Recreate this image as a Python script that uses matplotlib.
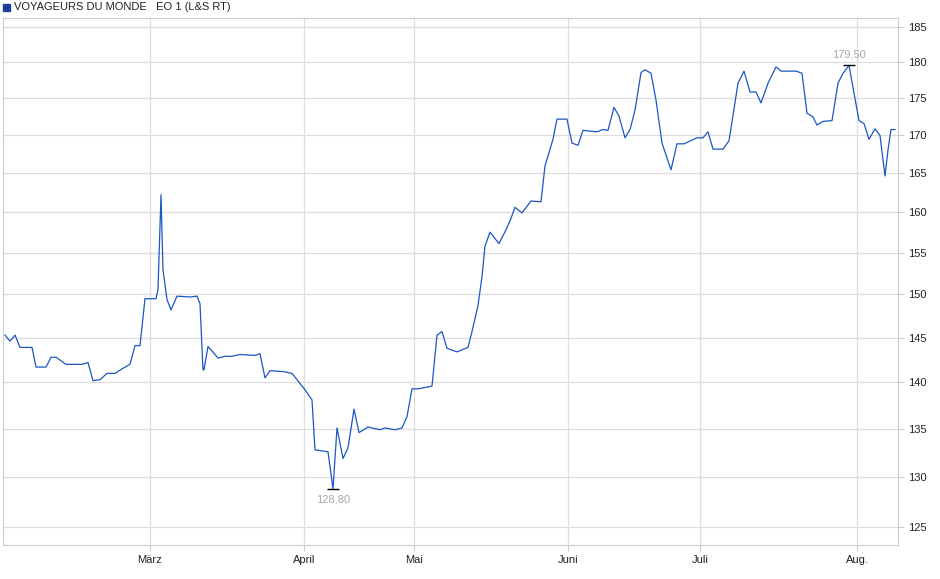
import numpy as np
import matplotlib.pyplot as plt
from matplotlib.ticker import FixedLocator, NullLocator

plt.rcParams['font.family'] = ['Liberation Sans', 'DejaVu Sans']

# trading-day index and closing price
days = [0.5, 1.75, 3, 4.25, 7.25, 8.25, 10.75, 12, 13.25, 15.75, 19.75, 21.25, 22.5, 24.25,
        26, 28, 29.75, 31.75, 33, 34.25, 35.5, 38.25, 38.75, 39.5, 40, 41, 42, 43.5, 46.75,
        48.5, 49.25, 50, 50.25, 51.25, 52.25, 53.75, 55.5, 57.25, 59.25, 63, 64.25, 65.5,
        66.75, 70, 72.25, 74.25, 75.5, 77.25, 78, 81.25, 82.5, 83.5, 85, 86.25, 87.75, 89,
        91.25, 94.25, 95.5, 98, 99.75, 101, 102.25, 103.75, 107.25, 108.5, 109.75, 111,
        113.5, 116.25, 117.25, 118.75, 119.75, 120.5, 121.75, 124, 125.75, 126.75, 128,
        129.75, 132, 134.5, 135.5, 137.5, 138.5, 141, 142.25, 143.75, 145, 146.75, 148.5,
        150, 151.25, 152.75, 154, 155.5, 156.75, 158, 159.5, 160.5, 162, 163.25, 164.75,
        167, 168.5, 170.25, 173.5, 175, 176.25, 177.5, 180, 181.5, 183.75, 185.25, 186.75,
        188.25, 189.5, 191.25, 193.25, 194.5, 198.25, 199.75, 201, 202.5, 203.5, 205,
        207.25, 208.75, 210, 211.5, 214, 215.25, 216.5, 218, 219.25, 220.5, 221.25, 222, 223]
prices = [145.3, 144.6, 145.3, 143.9, 143.9, 141.7, 141.7, 142.8, 142.8, 142.0, 142.0, 142.2,
          140.2, 140.3, 141.0, 141.0, 141.5, 142.0, 144.1, 144.1, 149.5, 149.5, 150.6, 162.2,
          152.9, 149.4, 148.2, 149.8, 149.7, 149.8, 148.9, 141.4, 141.4, 144.0, 143.5, 142.7,
          142.9, 142.9, 143.1, 143.0, 143.2, 140.5, 141.3, 141.2, 141.0, 139.9, 139.2, 138.1,
          132.8, 132.6, 128.8, 135.1, 131.9, 133.0, 137.1, 134.6, 135.2, 134.9, 135.1, 134.9,
          135.1, 136.3, 139.3, 139.3, 139.6, 145.3, 145.7, 143.8, 143.4, 143.9, 145.7, 148.7,
          152.1, 155.8, 157.5, 156.1, 157.8, 158.9, 160.6, 159.9, 161.4, 161.3, 165.9, 169.4,
          172.1, 172.1, 168.9, 168.6, 170.6, 170.5, 170.4, 170.7, 170.6, 173.7, 172.5, 169.6,
          170.7, 173.3, 178.5, 178.9, 178.4, 174.7, 168.9, 165.4, 168.8, 168.8, 169.6, 169.6,
          170.4, 168.1, 168.1, 169.2, 177.0, 178.7, 175.8, 175.8, 174.3, 177.0, 179.3, 178.7,
          178.7, 178.4, 172.9, 172.4, 171.3, 171.8, 171.9, 177.0, 178.4, 179.5, 171.9, 171.5,
          169.4, 170.8, 169.9, 164.6, 168.0, 170.7, 170.7]

month_pos = [36.75, 75.25, 102.75, 141.25, 174.25, 213.5]
month_labels = ['März', 'April', 'Mai', 'Juni', 'Juli', 'Aug.']
y_ticks = [125, 130, 135, 140, 145, 150, 155, 160, 165, 170, 175, 180, 185]

fig = plt.figure(figsize=(9.4, 5.79), dpi=100)
ax = fig.add_axes([3 / 940, 34 / 579, 895 / 940, 527 / 579])

ax.plot(days, prices, color='#1a56c4', lw=0.9)
ax.set_yscale('log')
ax.set_ylim(123.25, 186.3)
ax.set_xlim(0, 223.75)

ax.yaxis.set_major_locator(FixedLocator(y_ticks))
ax.yaxis.set_minor_locator(NullLocator())
ax.set_yticklabels([str(t) for t in y_ticks])
ax.yaxis.tick_right()
ax.set_xticks(month_pos)
ax.set_xticklabels(month_labels)
ax.tick_params(axis='both', labelsize=8, length=4, colors='#222222')
ax.tick_params(axis='both', which='both', color='#cccccc')
ax.grid(True, color='#dddddd', lw=0.9)
ax.set_axisbelow(True)
for s in ax.spines.values():
    s.set_color('#cccccc')

# high / low markers
i_hi = int(np.argmax(prices))
i_lo = int(np.argmin(prices))
for i, va, off in [(i_hi, 'bottom', 4), (i_lo, 'top', -4)]:
    ax.plot(days[i], prices[i], marker='_', color='black', ms=8, mew=1)
    ax.annotate(f'{prices[i]:.2f}'.replace('.', ','), (days[i], prices[i]),
                xytext=(0, off), textcoords='offset points', ha='center', va=va,
                fontsize=8, color='#a8a8a8')

fig.patches.append(plt.Rectangle((3 / 940, 1 - 11 / 579), 7 / 940, 7 / 579,
                                 transform=fig.transFigure, color='#1a3f9c'))
fig.text(14 / 940, 1 - 7 / 579, 'VOYAGEURS DU MONDE   EO 1 (L&S RT)', fontsize=8,
         va='center', color='#222222')

fig.savefig('out.png')
